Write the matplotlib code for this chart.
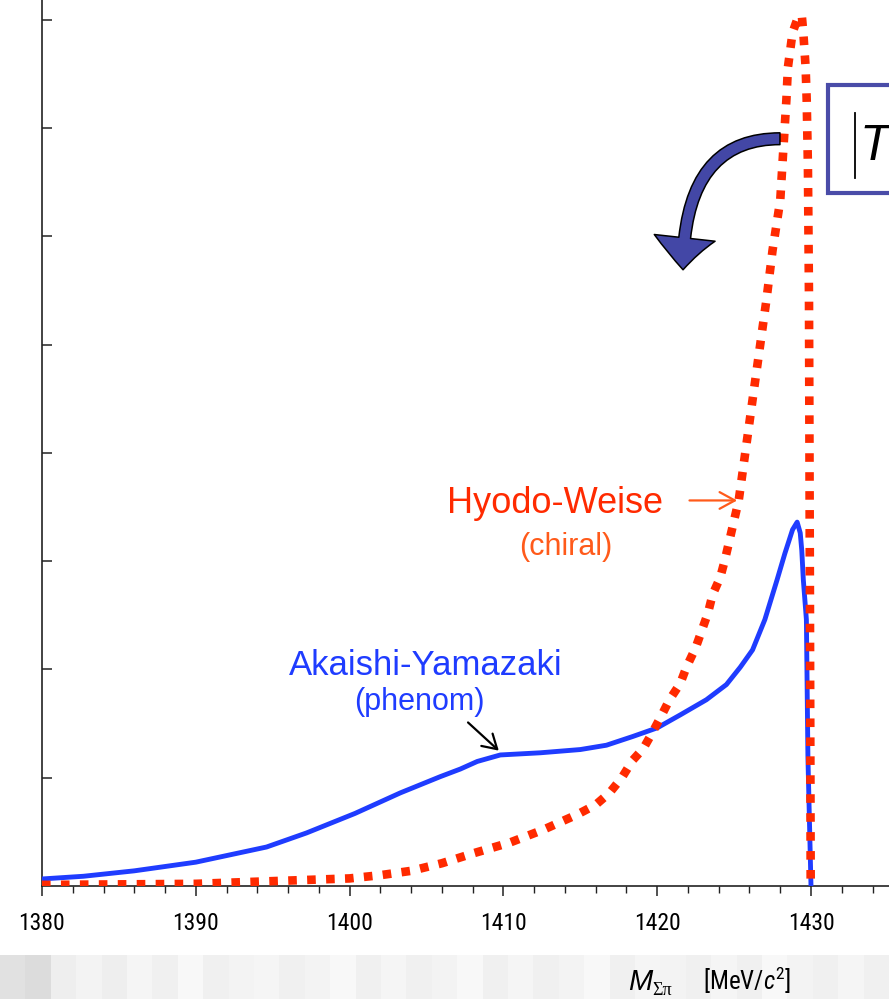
import numpy as np
import matplotlib
matplotlib.use("Agg")
import matplotlib.pyplot as plt
from matplotlib import font_manager
from matplotlib.patches import FancyArrowPatch, Rectangle
from matplotlib.lines import Line2D
from matplotlib.transforms import Affine2D

# --- spectra: Sigma-pi invariant mass [MeV/c^2] vs |T|^2 (arbitrary units) ---
hw_mass = [1380.0, 1385.0, 1390.0, 1394.0, 1397.0, 1400.0, 1402.0, 1404.0, 1406.0,
           1408.0, 1410.4, 1412.6, 1414.8, 1416.0, 1416.9, 1417.7, 1418.4, 1419.1,
           1419.7, 1420.3, 1420.8, 1421.5, 1421.9, 1422.5, 1422.9, 1423.3, 1423.6,
           1424.1, 1424.4, 1425.3, 1426.2, 1427.1, 1427.5, 1428.0, 1428.2, 1428.4,
           1428.5, 1428.8, 1429.1, 1429.4, 1429.5, 1429.65, 1429.72, 1429.8,
           1429.87, 1429.93, 1429.98]
hw_amp = [0.01, 0.015, 0.02, 0.04, 0.055, 0.07, 0.10, 0.14, 0.21,
          0.30, 0.40, 0.52, 0.66, 0.75, 0.86, 1.00, 1.16, 1.27,
          1.42, 1.58, 1.72, 1.87, 2.02, 2.20, 2.36, 2.52, 2.69,
          2.85, 3.01, 3.56, 4.49, 5.41, 5.87, 6.33, 6.80, 7.26,
          7.56, 7.88, 8.00, 8.04, 7.88, 7.56, 7.26, 6.64,
          5.41, 2.64, 0.0]

ay_mass = [1380.0, 1382.7, 1386.0, 1390.0, 1394.6, 1397.2, 1400.35, 1403.3, 1405.9,
           1407.2, 1408.3, 1409.8, 1412.4, 1415.0, 1416.7, 1418.4, 1420.0, 1421.5,
           1423.2, 1424.5, 1425.4, 1426.2, 1427.0, 1427.8, 1428.3, 1428.8, 1429.1,
           1429.3, 1429.4, 1429.5, 1429.7, 1429.8, 1430.0]
ay_amp = [0.065, 0.09, 0.14, 0.22, 0.36, 0.49, 0.67, 0.86, 1.01,
          1.08, 1.15, 1.21, 1.23, 1.26, 1.30, 1.38, 1.46, 1.58,
          1.72, 1.86, 2.02, 2.18, 2.46, 2.83, 3.07, 3.29, 3.36,
          3.26, 3.10, 2.83, 2.46, 1.19, 0.0]

x_major = [1380, 1390, 1400, 1410, 1420, 1430]
x_minor = list(range(1380, 1441, 2))
y_ticks = [1, 2, 3, 4, 5, 6, 7, 8]

# --- fonts ---
names = {f.name for f in font_manager.fontManager.ttflist}
narrow = "Liberation Sans"
for cand in ("Liberation Sans Narrow", "DejaVu Sans Condensed", "Roboto Condensed",
             "Open Sans Condensed"):
    if cand in names:
        narrow = cand
        break
sans = "Liberation Sans"
serif = "Liberation Serif"
plt.rcParams["font.family"] = [sans, "DejaVu Sans"]
plt.rcParams["mathtext.fontset"] = "custom"
plt.rcParams["mathtext.rm"] = narrow
plt.rcParams["mathtext.it"] = narrow + ":italic"

RED = "#ff2a00"
ORANGE = "#ff5a1a"
BLUE = "#1f3cff"

W, H, DPI = 889, 999, 100
fig = plt.figure(figsize=(W / DPI, H / DPI), dpi=DPI)
fig.patch.set_facecolor("white")

# pixel coordinates measured from the top-left corner
pix = Affine2D().scale(1 / DPI, -1 / DPI).translate(0, H / DPI) + fig.dpi_scale_trans

# --- striped footer band ---
band = fig.add_axes([0, 0, 1, 44 / H])
shades = [0.88, 0.86, 0.93, 0.95, 0.93, 0.96, 0.94, 0.97, 0.94, 0.95, 0.96, 0.94,
          0.95, 0.97, 0.94, 0.96, 0.94, 0.95, 0.97, 0.94, 0.96, 0.94, 0.95, 0.97,
          0.94, 0.96, 0.95, 0.94, 0.96, 0.94, 0.97, 0.95, 0.94, 0.96, 0.94]
band.imshow(np.array(shades)[None, :], cmap="gray", vmin=0, vmax=1,
            aspect="auto", interpolation="nearest", extent=(0, 1, 0, 1))
band.set_axis_off()

# --- main axes ---
px_per_mev = (811 - 42) / 50.0
px_per_unit = 108.3
x0, x1 = 1380, 1440
y0, y1 = 0, 8.4
ax = fig.add_axes([42 / W, (H - 886) / H,
                   (x1 - x0) * px_per_mev / W, (y1 - y0) * px_per_unit / H])
ax.set_xlim(x0, x1)
ax.set_ylim(y0, y1)
ax.set_facecolor("none")
for s in ("top", "right"):
    ax.spines[s].set_visible(False)
for s in ("left", "bottom"):
    ax.spines[s].set_color("#222222")
    ax.spines[s].set_linewidth(1.2)

ax.set_xticks(x_major)
ax.set_xticks(x_minor, minor=True)
ax.set_xticklabels([str(v) for v in x_major], fontfamily=narrow, fontsize=17,
                   fontstretch="condensed")
ax.set_yticks(y_ticks)
ax.set_yticklabels([])
ax.tick_params(axis="x", which="major", direction="out", length=7, width=1.1,
               pad=12, color="#222222")
ax.tick_params(axis="x", which="minor", direction="out", length=5, width=1.0,
               color="#222222")
ax.tick_params(axis="y", which="major", direction="in", length=7.5, width=1.1,
               color="#222222")

# curves
ax.plot(ay_mass, ay_amp, color=BLUE, lw=3.5, solid_joinstyle="round", zorder=3)
ax.plot(hw_mass, hw_amp, color=RED, lw=6.2, linestyle=(0, (1, 1.2)),
        dash_capstyle="butt", zorder=4)

# --- labels ---
fig.text(555, 513, "Hyodo-Weise", transform=pix, color=RED, fontsize=26,
         ha="center", va="baseline")
fig.text(566, 555, "(chiral)", transform=pix, color=ORANGE, fontsize=22,
         ha="center", va="baseline")
fig.text(426, 675, "Akaishi-Yamazaki", transform=pix, color=BLUE, fontsize=25,
         ha="center", va="baseline")
fig.text(419, 710, "(phenom)", transform=pix, color=BLUE, fontsize=22,
         ha="center", va="baseline")

ax.add_patch(FancyArrowPatch((1422.1, hw_amp[29]), (1425.2, hw_amp[29]),
                             arrowstyle="->,head_length=0.55,head_width=0.3",
                             mutation_scale=20, color=ORANGE, lw=1.6,
                             shrinkA=0, shrinkB=0, zorder=5))
ax.add_patch(FancyArrowPatch((1407.7, 1.51), (1409.7, 1.25),
                             arrowstyle="->,head_length=0.5,head_width=0.3",
                             mutation_scale=20, color="black", lw=1.6,
                             shrinkA=0, shrinkB=0, zorder=5))

# curved arrow
ax.add_patch(FancyArrowPatch((1427.98, 6.90), (1421.68, 5.69),
                             connectionstyle="angle3,angleA=180,angleB=90",
                             arrowstyle="simple,head_length=23,head_width=44,tail_width=8.5",
                             mutation_scale=1, facecolor="#4347a6",
                             edgecolor="black", lw=1.1, shrinkA=0, shrinkB=0,
                             zorder=6))

# boxed |T label running off the right edge
fig.patches.append(Rectangle((828, 85), 120, 108, transform=pix, fill=True,
                             facecolor="white", edgecolor="#4a4ca8", lw=3.0))
fig.lines.append(Line2D([855, 855], [113, 178], transform=pix, color="black",
                        lw=1.3))
fig.text(859, 160, "T", transform=pix, fontsize=36, fontstyle="italic",
         color="black", va="baseline", ha="left")

# axis title in the footer
fig.text(628, 990, "M", transform=pix, fontsize=21, fontstyle="italic",
         fontfamily=sans, va="baseline", ha="left")
fig.text(652, 995, "Σπ", transform=pix, fontsize=13, fontfamily=serif,
         va="baseline", ha="left")
fig.text(703, 990, "[MeV/$c^2$]", transform=pix, fontsize=18, fontfamily=narrow,
         va="baseline", ha="left")

fig.savefig("out.png", dpi=DPI, facecolor="white")
